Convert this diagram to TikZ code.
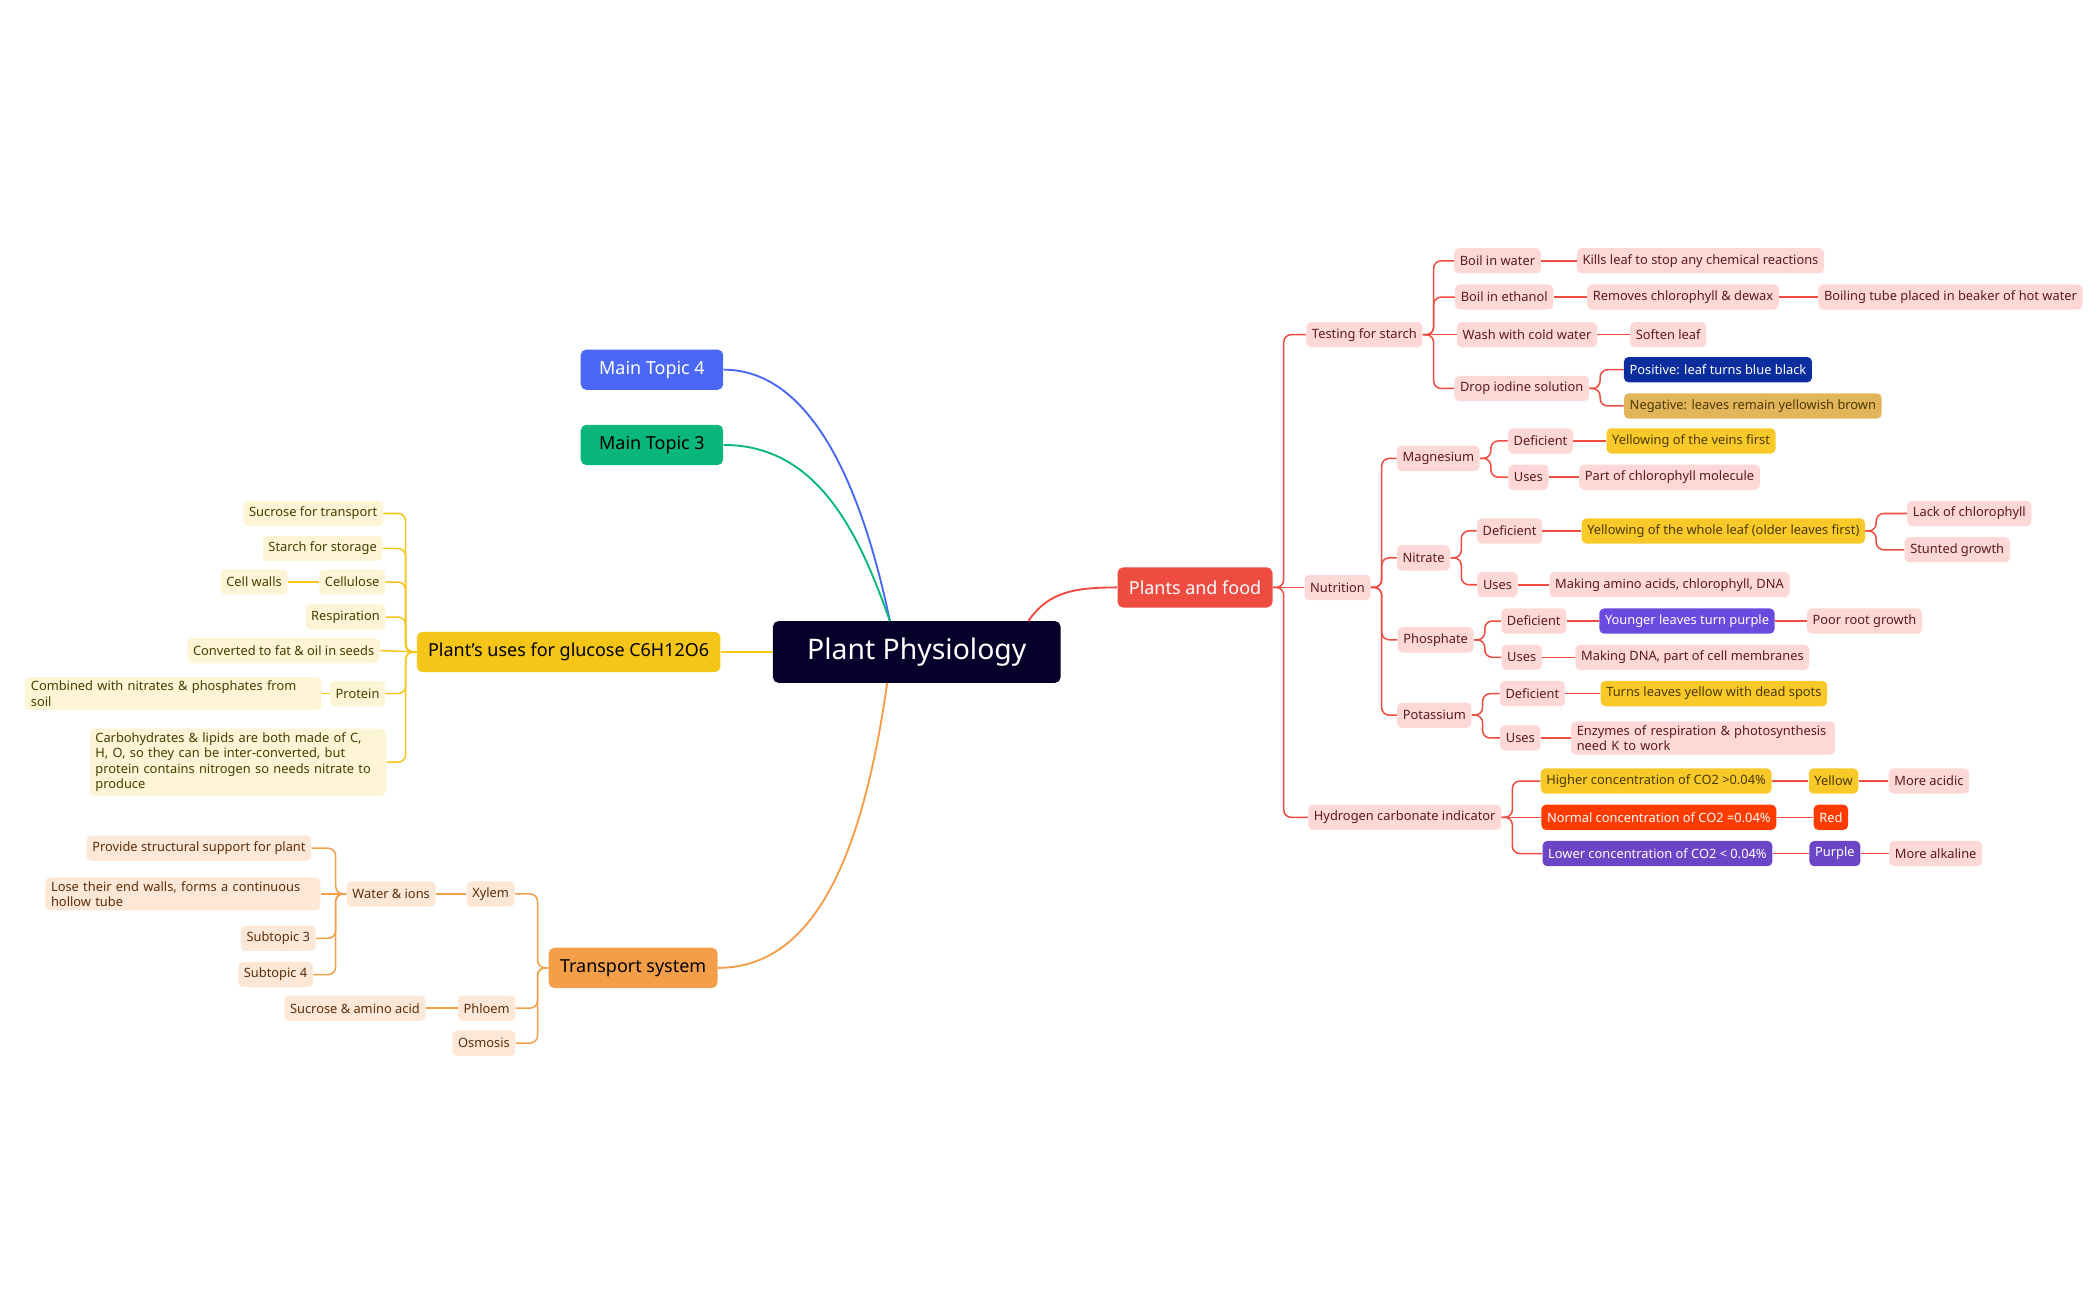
\documentclass[tikz,border=0pt]{standalone}
\usepackage{fontspec}
\setmainfont{Noto Sans}
\usetikzlibrary{positioning}
\definecolor{rootc}{HTML}{05002A}
\definecolor{redl}{HTML}{EE4B41}
\definecolor{redf}{HTML}{FDD8D7}
\definecolor{redt}{HTML}{5C1A1A}
\definecolor{ylwl}{HTML}{F5C518}
\definecolor{ylwf}{HTML}{FEF5D6}
\definecolor{ylwt}{HTML}{4A3A00}
\definecolor{orgl}{HTML}{F59E4A}
\definecolor{orgf}{HTML}{FDE7D6}
\definecolor{orgt}{HTML}{5A2E0C}
\definecolor{bluel}{HTML}{4A67F5}
\definecolor{greenl}{HTML}{0AB77B}
\definecolor{hiy}{HTML}{F9C829}
\definecolor{dkb}{HTML}{0B2D9E}
\definecolor{tan}{HTML}{E2B55A}
\definecolor{purp}{HTML}{6A4BE0}
\definecolor{purp2}{HTML}{6C44C6}
\definecolor{orr}{HTML}{FF3B00}
\tikzset{
  box/.style={rounded corners=2.5pt,inner xsep=3pt,inner ysep=2pt,minimum height=0.47cm,font=\fontsize{6.8}{8.2}\selectfont},
  rsub/.style={box,fill=redf,text=redt},
  ysub/.style={box,fill=ylwf,text=ylwt},
  osub/.style={box,fill=orgf,text=orgt},
  topic/.style={rounded corners=3pt,minimum height=0.75cm,inner xsep=6pt,font=\fontsize{9.5}{11}\selectfont},
  link/.style={line width=0.8pt,rounded corners=4pt}
}
\newcommand{\lnk}[3]{\draw[link,#1] (#2.east) -- ++(8,0) |- (#3.west);}
\newcommand{\lnkl}[3]{\draw[link,#1] (#2.west) -- ++(-8,0) |- (#3.east);}
\begin{document}
\begin{tikzpicture}[x=0.025cm,y=-0.025cm]
  \useasboundingbox (0,0) rectangle (1560,967);

  % root and main topics
  \node[rounded corners=3pt,fill=rootc,text=white,minimum width=5.35cm,minimum height=1.15cm,font=\fontsize{15}{17}\selectfont] (root) at (682,485) {Plant Physiology};
  \node[topic,fill=bluel,text=white,minimum width=2.65cm] (mt4) at (485,275) {\bfseries Main Topic 4};
  \node[topic,fill=greenl,text=black,minimum width=2.65cm] (mt3) at (485,331) {\bfseries Main Topic 3};
  \node[topic,fill=ylwl,text=black] (uses) at (423,485) {\bfseries Plant's uses for glucose C6H12O6};
  \node[topic,fill=orgl,text=black] (trans) at (471,720) {\bfseries Transport system};
  \node[topic,fill=redl,text=white] (food) at (889,437) {\bfseries Plants and food};

  \coordinate (rt) at (662,462);
  \coordinate (rb) at (660,508);
  \draw[line width=1pt,bluel] (rt) .. controls (645,380) and (610,275) .. (mt4.east);
  \draw[line width=1pt,greenl] (rt) .. controls (640,400) and (610,331) .. (mt3.east);
  \draw[line width=1pt,ylwl] (root.west) -- (uses.east);
  \draw[line width=1pt,orgl] (rb) .. controls (640,650) and (600,720) .. (trans.east);
  \draw[line width=1pt,redl] (765,462) .. controls (780,440) and (800,437) .. (food.west);

  % plants and food
  \node[rsub] (starch) at (1015,249) {Testing for starch};
  \node[rsub] (bw) at (1114,194) {Boil in water};
  \node[rsub] (bw1) at (1265,194) {Kills leaf to stop any chemical reactions};
  \node[rsub] (be) at (1119,221) {Boil in ethanol};
  \node[rsub] (be1) at (1252,221) {Removes chlorophyll \& dewax};
  \node[rsub] (be2) at (1451,221) {Boiling tube placed in beaker of hot water};
  \node[rsub] (wc) at (1136,249) {Wash with cold water};
  \node[rsub] (wc1) at (1241,249) {Soften leaf};
  \node[rsub] (di) at (1132,289) {Drop iodine solution};
  \node[box,fill=dkb,text=white] (pos) at (1278,275) {Positive: leaf turns blue black};
  \node[box,fill=tan,text=ylwt] (neg) at (1304,302) {Negative: leaves remain yellowish brown};
  \node[rsub] (nut) at (995,437) {Nutrition};
  \node[rsub] (mg) at (1070,341) {Magnesium};
  \node[rsub] (mgd) at (1146,328) {Deficient};
  \node[box,fill=hiy,text=ylwt] (mgd1) at (1258,328) {Yellowing of the veins first};
  \node[rsub] (mgu) at (1137,355) {Uses};
  \node[rsub] (mgu1) at (1242,355) {Part of chlorophyll molecule};
  \node[rsub] (ni) at (1059,415) {Nitrate};
  \node[rsub] (nid) at (1123,395) {Deficient};
  \node[box,fill=hiy,text=ylwt] (nid1) at (1282,395) {Yellowing of the whole leaf (older leaves first)};
  \node[rsub] (nid2) at (1465,382) {Lack of chlorophyll};
  \node[rsub] (nid3) at (1456,409) {Stunted growth};
  \node[rsub] (niu) at (1114,435) {Uses};
  \node[rsub] (niu1) at (1242,435) {Making amino acids, chlorophyll, DNA};
  \node[rsub] (ph) at (1068,476) {Phosphate};
  \node[rsub] (phd) at (1141,462) {Deficient};
  \node[box,fill=purp,text=white] (phd1) at (1255,462) {Younger leaves turn purple};
  \node[rsub] (phd2) at (1387,462) {Poor root growth};
  \node[rsub] (phu) at (1132,489) {Uses};
  \node[rsub] (phu1) at (1259,489) {Making DNA, part of cell membranes};
  \node[rsub] (k) at (1067,532) {Potassium};
  \node[rsub] (kd) at (1140,516) {Deficient};
  \node[box,fill=hiy,text=ylwt] (kd1) at (1275,516) {Turns leaves yellow with dead spots};
  \node[rsub] (ku) at (1131,549) {Uses};
  \node[rsub,align=left,text width=4.7cm] (ku1) at (1267,549) {Enzymes of respiration \& photosynthesis\\need K to work};
  \node[rsub] (hc) at (1045,608) {Hydrogen carbonate indicator};
  \node[box,fill=hiy,text=ylwt] (hi) at (1232,581) {Higher concentration of CO2 >0.04\%};
  \node[box,fill=hiy,text=ylwt] (hi1) at (1364,581) {Yellow};
  \node[rsub] (hi2) at (1435,581) {More acidic};
  \node[box,fill=orr,text=white] (no) at (1234,608) {Normal concentration of CO2 =0.04\%};
  \node[box,fill=orr,text=white] (no1) at (1362,608) {Red};
  \node[box,fill=purp2,text=white] (lo) at (1233,635) {Lower concentration of CO2 < 0.04\%};
  \node[box,fill=purp2,text=white] (lo1) at (1365,635) {Purple};
  \node[rsub] (lo2) at (1440,635) {More alkaline};

  % forks
  \foreach \a/\b in {food/starch,food/hc,starch/bw,starch/be,starch/di,
      di/pos,di/neg,nut/mg,nut/ni,nut/ph,nut/k,
      mg/mgd,mg/mgu,ni/nid,ni/niu,nid1/nid2,nid1/nid3,
      ph/phd,ph/phu,k/kd,k/ku,hc/hi,hc/lo}
    {\lnk{redl}{\a}{\b}}
  % straight ones
  \foreach \a/\b in {food/nut,starch/wc,bw/bw1,be/be1,be1/be2,wc/wc1,mgd/mgd1,mgu/mgu1,
      nid/nid1,niu/niu1,phd/phd1,phd1/phd2,phu/phu1,kd/kd1,ku/ku1,
      hc/no,hi/hi1,hi1/hi2,no/no1,lo/lo1,lo1/lo2}
    {\draw[link,redl] (\a.east) -- (\b.west);}

  % glucose
  \node[ysub] (suc) at (233,382) {Sucrose for transport};
  \node[ysub] (sta) at (240,408) {Starch for storage};
  \node[ysub] (cel) at (262,433) {Cellulose};
  \node[ysub] (cw) at (189,433) {Cell walls};
  \node[ysub] (res) at (257,459) {Respiration};
  \node[ysub] (fat) at (211,484) {Converted to fat \& oil in seeds};
  \node[ysub] (pro) at (266,516) {Protein};
  \node[ysub,align=left,text width=5.3cm] (pro1) at (129,516) {Combined with nitrates \& phosphates from\\soil};
  \node[ysub,align=left,text width=5.3cm] (carb) at (177,567) {Carbohydrates \& lipids are both made of C,\\H, O, so they can be inter-converted, but\\protein contains nitrogen so needs nitrate to\\produce};
  \foreach \b in {suc,sta,cel,res,pro,carb}
    {\lnkl{ylwl}{uses}{\b}}
  \draw[link,ylwl] (uses.west) -- (fat.east);
  \draw[link,ylwl] (cel.west) -- (cw.east);
  \draw[link,ylwl] (pro.west) -- (pro1.east);

  % transport
  \node[osub] (xy) at (365,665) {Xylem};
  \node[osub] (wi) at (291,665) {Water \& ions};
  \node[osub] (st) at (148,631) {Provide structural support for plant};
  \node[osub,align=left,text width=4.9cm] (lw) at (136,665) {Lose their end walls, forms a continuous\\hollow tube};
  \node[osub] (s3) at (207,698) {Subtopic 3};
  \node[osub] (s4) at (205,725) {Subtopic 4};
  \node[osub] (phl) at (362,750) {Phloem};
  \node[osub] (sa) at (264,750) {Sucrose \& amino acid};
  \node[osub] (os) at (360,776) {Osmosis};
  \foreach \b in {xy,phl,os}
    {\lnkl{orgl}{trans}{\b}}
  \foreach \b in {st,s3,s4}
    {\lnkl{orgl}{wi}{\b}}
  \draw[link,orgl] (wi.west) -- (lw.east);
  \draw[link,orgl] (xy.west) -- (wi.east);
  \draw[link,orgl] (phl.west) -- (sa.east);
\end{tikzpicture}
\end{document}
